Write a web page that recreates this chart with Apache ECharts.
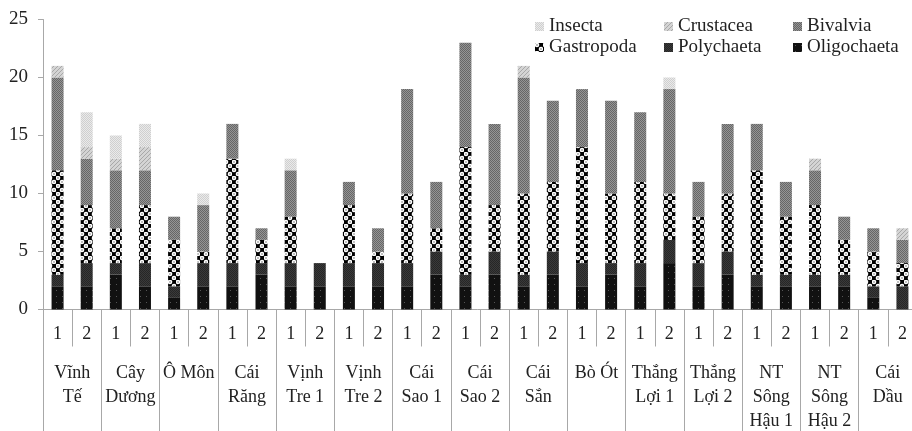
<!DOCTYPE html>
<html>
<head>
<meta charset="utf-8">
<script src="https://cdn.jsdelivr.net/npm/echarts@6/dist/echarts.min.js"></script>
<style>
  html, body { margin: 0; padding: 0; background: #fff; }
  #chart { width: 912px; height: 431px; }
</style>
</head>
<body>
<div id="chart"></div>
<script>
const stations = ["Vĩnh\nTế", "Cây\nDương", "Ô Môn", "Cái\nRăng", "Vịnh\nTre 1", "Vịnh\nTre 2",
  "Cái\nSao 1", "Cái\nSao 2", "Cái\nSắn", "Bò Ót", "Thắng\nLợi 1", "Thắng\nLợi 2",
  "NT\nSông\nHậu 1", "NT\nSông\nHậu 2", "Cái\nDầu"];
const samples = [];
stations.forEach(() => { samples.push("1"); samples.push("2"); });

const oligochaeta = [2, 2, 3, 2, 1, 2, 2, 3, 2, 2, 2, 2, 2, 3, 2, 3, 2, 3, 2, 3, 2, 4, 2, 3, 2, 2, 2, 2, 1, 0];
const polychaeta  = [1, 2, 1, 2, 1, 2, 2, 1, 2, 2, 2, 2, 2, 2, 1, 2, 1, 2, 2, 1, 2, 2, 2, 2, 1, 1, 1, 1, 1, 2];
const gastropoda  = [9, 5, 3, 5, 4, 1, 9, 2, 4, 0, 5, 1, 6, 2, 11, 4, 7, 6, 10, 6, 7, 4, 4, 5, 9, 5, 6, 3, 3, 2];
const bivalvia    = [8, 4, 5, 3, 2, 4, 3, 1, 4, 0, 2, 2, 9, 4, 9, 7, 10, 7, 5, 8, 6, 9, 3, 6, 4, 3, 3, 2, 2, 2];
const crustacea   = [1, 1, 1, 2, 0, 0, 0, 0, 0, 0, 0, 0, 0, 0, 0, 0, 1, 0, 0, 0, 0, 0, 0, 0, 0, 0, 1, 0, 0, 1];
const insecta     = [0, 3, 2, 2, 0, 1, 0, 0, 1, 0, 0, 0, 0, 0, 0, 0, 0, 0, 0, 0, 0, 1, 0, 0, 0, 0, 0, 0, 0, 0];

// small canvas tiles used as fill patterns
function tile(size, draw) {
  const c = document.createElement("canvas");
  c.width = size; c.height = size;
  draw(c.getContext("2d"));
  return { image: c, repeat: "repeat" };
}
const pat = {
  Oligochaeta: tile(6, (g) => {
    g.fillStyle = "#111"; g.fillRect(0, 0, 6, 6);
    g.fillStyle = "#555"; g.fillRect(2, 2, 1, 1);
  }),
  Polychaeta: tile(2, (g) => {
    g.fillStyle = "#3a3a3a"; g.fillRect(0, 0, 2, 2);
    g.fillStyle = "#262626"; g.fillRect(0, 0, 1, 1); g.fillRect(1, 1, 1, 1);
  }),
  Gastropoda: tile(8, (g) => {
    g.fillStyle = "#000"; g.fillRect(0, 0, 8, 8);
    g.fillStyle = "#fff";
    [[2, 2], [6, 6]].forEach(([x, y]) => { g.beginPath(); g.arc(x, y, 2.3, 0, Math.PI * 2); g.fill(); });
    g.fillStyle = "#000";
    [[2, 2], [6, 6]].forEach(([x, y]) => { g.fillRect(x - 0.5, y - 0.5, 1, 1); });
  }),
  Bivalvia: tile(2, (g) => {
    g.fillStyle = "#959595"; g.fillRect(0, 0, 2, 2);
    g.fillStyle = "#666"; g.fillRect(0, 0, 1, 1); g.fillRect(1, 1, 1, 1);
  }),
  Crustacea: tile(4, (g) => {
    g.fillStyle = "#d4d4d4"; g.fillRect(0, 0, 4, 4);
    g.fillStyle = "#a8a8a8";
    for (let i = 0; i < 4; i++) g.fillRect(3 - i, i, 1, 1);
  }),
  Insecta: tile(2, (g) => {
    g.fillStyle = "#eaeaea"; g.fillRect(0, 0, 2, 2);
    g.fillStyle = "#cfcfcf"; g.fillRect(0, 0, 1, 1); g.fillRect(1, 1, 1, 1);
  })
};

const seriesData = [
  ["Oligochaeta", oligochaeta],
  ["Polychaeta", polychaeta],
  ["Gastropoda", gastropoda],
  ["Bivalvia", bivalvia],
  ["Crustacea", crustacea],
  ["Insecta", insecta]
];

const font = "'Liberation Serif', 'DejaVu Serif', serif";
const legendSpots = [
  ["Insecta", 535, 17], ["Crustacea", 664, 17], ["Bivalvia", 793, 17],
  ["Gastropoda", 535, 38], ["Polychaeta", 664, 38], ["Oligochaeta", 793, 38]
];

const chart = echarts.init(document.getElementById("chart"));

const option = {
  animation: false,
  backgroundColor: "#fff",
  textStyle: { fontFamily: font },
  legend: legendSpots.map(([name, x, y]) => ({
    data: [name],
    left: x,
    top: y,
    padding: 0,
    icon: "rect",
    itemWidth: 9,
    itemHeight: 9,
    textStyle: { fontFamily: font, fontSize: 19, color: "#222", lineHeight: 19 }
  })),
  grid: { left: 43, top: 19.5, width: 874, bottom: 121.5, containLabel: false, outerBoundsMode: "none" },
  xAxis: [
    {
      type: "category",
      data: samples,
      position: "bottom",
      axisLine: { show: true, onZero: false, lineStyle: { color: "#a8a8a8" } },
      axisTick: { show: true, interval: 0, length: 37, lineStyle: { color: "#a8a8a8" } },
      axisLabel: { interval: 0, margin: 15, fontFamily: font, fontSize: 18, color: "#222", lineHeight: 20 }
    },
    {
      type: "category",
      data: stations,
      position: "bottom",
      axisLine: { show: false, onZero: false },
      axisTick: { show: true, interval: 0, length: 122, lineStyle: { color: "#a8a8a8" } },
      axisLabel: { interval: 0, margin: 52, fontFamily: font, fontSize: 18, color: "#222", lineHeight: 24 }
    }
  ],
  yAxis: {
    type: "value",
    min: 0,
    max: 25,
    interval: 5,
    splitLine: { show: false },
    axisLine: { show: true, lineStyle: { color: "#a8a8a8" } },
    axisTick: { show: true, length: 5, lineStyle: { color: "#a8a8a8" } },
    axisLabel: { margin: 15, fontFamily: font, fontSize: 19, color: "#222" }
  },
  series: seriesData.map(([name, vals]) => ({
    name: name,
    type: "bar",
    stack: "total",
    xAxisIndex: 0,
    barWidth: 12,
    itemStyle: { color: pat[name] },
    data: vals
  }))
};

chart.setOption(option);
</script>
</body>
</html>
